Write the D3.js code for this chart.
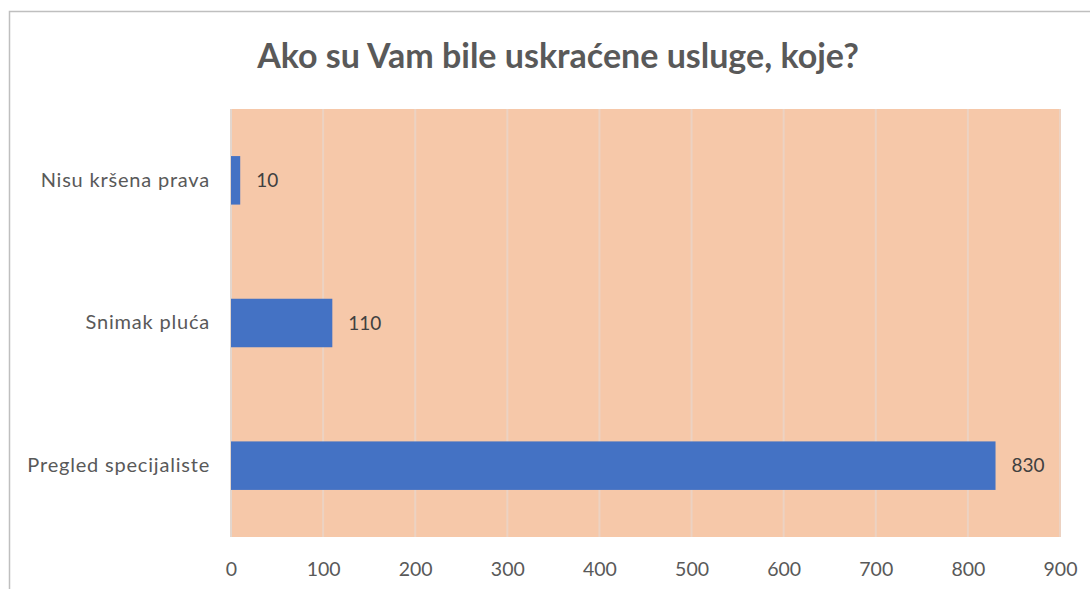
<!DOCTYPE html>
<html><head><meta charset="utf-8">
<script src="https://cdn.jsdelivr.net/npm/d3@7"></script>
<style>body{margin:0;background:#fff;} svg{display:block;}</style>
</head><body>
<svg id="c" width="1090" height="589"></svg>
<script>
const title = "Ako su Vam bile uskraćene usluge, koje?";
const categories = ["Nisu kršena prava", "Snimak pluća", "Pregled specijaliste"];
const values = [10, 110, 830];
const ticks = [0, 100, 200, 300, 400, 500, 600, 700, 800, 900];

const svg = d3.select("#c");
const m = {left: 231, right: 1060, top: 109, bottom: 537};

// outer chart border
svg.append("path").attr("d", "M9.5,589 L9.5,11.5 L1090,11.5")
  .attr("fill", "none").attr("stroke", "#bfbfbf").attr("stroke-width", 1.5);

svg.append("text").attr("x", 558).attr("y", 68).attr("text-anchor", "middle")
  .attr("font-family", "Lato, sans-serif").attr("font-weight", "bold")
  .attr("font-size", 34).attr("fill", "#595959").text(title);

const x = d3.scaleLinear().domain([0, 900]).range([m.left, m.right]);
const y = d3.scaleBand().domain(categories).range([m.top, m.bottom]).paddingInner(0.66).paddingOuter(0.33);

svg.append("rect").attr("x", m.left).attr("y", m.top).attr("width", m.right - m.left)
  .attr("height", m.bottom - m.top).attr("fill", "#f6c8a9");

svg.append("g").selectAll("line").data(ticks.slice(1)).join("line")
  .attr("x1", d => x(d)).attr("x2", d => x(d)).attr("y1", m.top).attr("y2", m.bottom)
  .attr("stroke", "#ecd2c2").attr("stroke-width", 2);
svg.append("line").attr("x1", m.left).attr("x2", m.left).attr("y1", m.top).attr("y2", m.bottom)
  .attr("stroke", "#e2d6ce").attr("stroke-width", 2);

svg.append("g").selectAll("rect").data(values).join("rect")
  .attr("x", x(0)).attr("y", (d, i) => y(categories[i]))
  .attr("width", d => x(d) - x(0)).attr("height", y.bandwidth())
  .attr("fill", "#4472c4");

svg.append("g").selectAll("text").data(values).join("text")
  .attr("x", d => x(d) + 16).attr("y", (d, i) => y(categories[i]) + y.bandwidth() / 2)
  .attr("dy", "0.35em").attr("font-family", "Lato, sans-serif").attr("font-size", 19)
  .attr("fill", "#404040").text(d => d);

const xAxis = d3.axisBottom(x).tickValues(ticks).tickSize(0).tickPadding(0);
const gx = svg.append("g").attr("transform", `translate(0,${m.bottom + 39})`).call(xAxis);
gx.select(".domain").remove();
gx.selectAll("text").attr("font-family", "Lato, sans-serif").attr("font-size", 19.5).attr("fill", "#595959").attr("dy", "0");

const yAxis = d3.axisLeft(y).tickSize(0).tickPadding(21);
const gy = svg.append("g").attr("transform", `translate(${m.left},0)`).call(yAxis);
gy.select(".domain").remove();
gy.selectAll("text").attr("font-family", "Lato, sans-serif").attr("font-size", 20)
  .attr("letter-spacing", 0.8).attr("fill", "#595959");
</script>
</body></html>
